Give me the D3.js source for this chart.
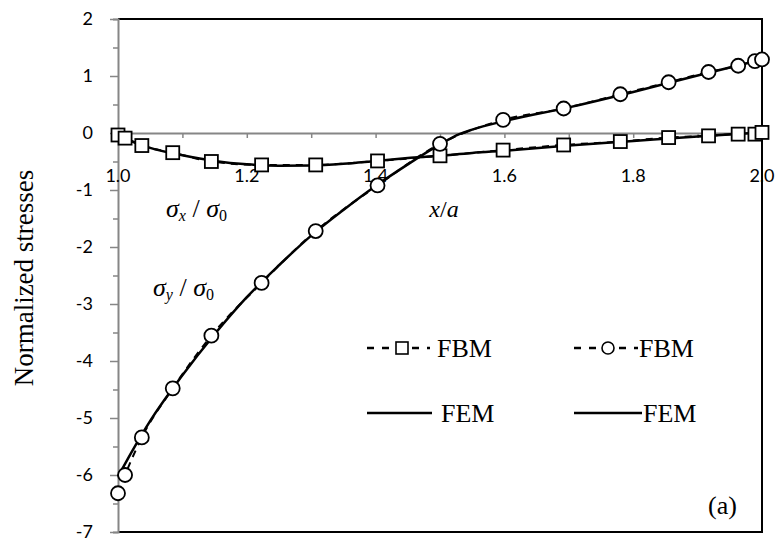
<!DOCTYPE html>
<html lang="en">
<head>
<meta charset="UTF-8">
<title>Normalized stresses</title>
<style>
  body { margin: 0; background: #fff; }
</style>
</head>
<body>
<svg id="svg" width="778" height="541"></svg>
<script src="https://d3js.org/d3.v7.min.js"></script>
<script>
// FBM sample points (markers)
const fbmX = [1.0, 1.011, 1.037, 1.085, 1.145, 1.223, 1.307, 1.403, 1.5, 1.598, 1.692, 1.78, 1.855, 1.917, 1.963, 1.989, 2.0]
const fbmSx = [-0.035, -0.09, -0.22, -0.345, -0.50, -0.56, -0.56, -0.49, -0.40, -0.30, -0.21, -0.15, -0.08, -0.05, -0.02, -0.02, 0.01]
const fbmSy = [-6.32, -6.0, -5.34, -4.48, -3.555, -2.63, -1.72, -0.92, -0.19, 0.23, 0.43, 0.68, 0.89, 1.07, 1.18, 1.26, 1.29]

// FEM curves (solid lines)
const femX = [1.0, 1.02, 1.05, 1.1, 1.15, 1.2, 1.25, 1.3, 1.35, 1.4, 1.45, 1.5, 1.53, 1.55, 1.6, 1.7, 1.8, 1.9, 2.0]
const femSx = [-0.04, -0.14, -0.26, -0.39, -0.49, -0.55, -0.575, -0.57, -0.54, -0.49, -0.44, -0.40, -0.37, -0.35, -0.31, -0.22, -0.14, -0.06, 0.01]
const femSy = [-6.03, -5.62, -5.05, -4.25, -3.53, -2.88, -2.32, -1.80, -1.35, -0.93, -0.55, -0.20, -0.02, 0.06, 0.21, 0.45, 0.72, 1.01, 1.29]

const xTicks = [1.0, 1.1, 1.2, 1.3, 1.4, 1.5, 1.6, 1.7, 1.8, 1.9, 2.0]
const xLabels = [1.0, 1.2, 1.4, 1.6, 1.8, 2.0]
const yTicks = [2, 1, 0, -1, -2, -3, -4, -5, -6, -7]

const svg = d3.select('#svg')
const m = { left: 118, right: 762, top: 19, bottom: 532 }

const x = d3.scaleLinear().domain([1, 2]).range([m.left, m.right])
const y = d3.scaleLinear().domain([-7, 2]).range([m.bottom, m.top])

const serif = '"Liberation Serif", "Times New Roman", serif'
const sans = 'Lato, "Open Sans", sans-serif'
const gray = '#868686'

// plot frame (top, right, bottom)
svg.append('path')
  .attr('d', `M${m.left},${m.top}H${m.right}V${m.bottom}H${m.left}`)
  .attr('fill', 'none')
  .attr('stroke', '#000')
  .attr('stroke-width', 2)

// y axis: ticks every 0.5, labels every 1
const yAxis = svg.append('g')
  .attr('transform', `translate(${m.left},0)`)
  .call(d3.axisLeft(y).tickValues(d3.range(-7, 2.01, 0.5)).tickSize(5).tickFormat(''))
yAxis.select('.domain').attr('stroke', gray).attr('stroke-width', 2)
yAxis.selectAll('.tick line').attr('stroke', gray).attr('stroke-width', 1.5)
  .attr('x2', d => Number.isInteger(d) ? -8 : -5)

svg.append('g').selectAll('text')
  .data(yTicks)
  .join('text')
  .attr('x', 93)
  .attr('y', d => y(d))
  .attr('dy', '0.35em')
  .attr('text-anchor', 'end')
  .attr('font-family', sans)
  .attr('font-size', 18)
  .text(d => d)

// x axis sits at y = 0
const xAxis = svg.append('g')
  .attr('transform', `translate(0,${y(0)})`)
  .call(d3.axisBottom(x).tickValues(xTicks).tickSize(5).tickFormat(''))
xAxis.select('.domain').attr('stroke', gray).attr('stroke-width', 2)
xAxis.selectAll('.tick line').attr('stroke', gray).attr('stroke-width', 1.5)

svg.append('g').selectAll('text')
  .data(xLabels)
  .join('text')
  .attr('x', d => x(d))
  .attr('y', 182)
  .attr('text-anchor', 'middle')
  .attr('font-family', sans)
  .attr('font-size', 18)
  .text(d => d3.format('.1f')(d))

// lines
const lineOf = (xs, ys, curve) => d3.line()
  .x((d, i) => x(xs[i]))
  .y(d => y(d))
  .curve(curve)(ys)

const curves = svg.append('g').attr('fill', 'none').attr('stroke', '#000')
curves.append('path').attr('d', lineOf(femX, femSx, d3.curveMonotoneX)).attr('stroke-width', 2.5)
curves.append('path').attr('d', lineOf(femX, femSy, d3.curveMonotoneX)).attr('stroke-width', 2.5)
curves.append('path').attr('d', lineOf(fbmX, fbmSx, d3.curveMonotoneX))
  .attr('stroke-width', 2).attr('stroke-dasharray', '7,6')
curves.append('path').attr('d', lineOf(fbmX, fbmSy, d3.curveMonotoneX))
  .attr('stroke-width', 2).attr('stroke-dasharray', '7,6')

// markers
const ms = 13
svg.append('g').selectAll('rect')
  .data(fbmSx)
  .join('rect')
  .attr('x', (d, i) => x(fbmX[i]) - ms / 2)
  .attr('y', d => y(d) - ms / 2)
  .attr('width', ms)
  .attr('height', ms)
  .attr('fill', '#fff')
  .attr('stroke', '#000')
  .attr('stroke-width', 1.8)

svg.append('g').selectAll('circle')
  .data(fbmSy)
  .join('circle')
  .attr('cx', (d, i) => x(fbmX[i]))
  .attr('cy', d => y(d))
  .attr('r', 7)
  .attr('fill', '#fff')
  .attr('stroke', '#000')
  .attr('stroke-width', 1.8)

// labels inside the plot
function sigma(xPos, yPos, sub) {
  const t = svg.append('text')
    .attr('x', xPos)
    .attr('y', yPos)
    .attr('font-family', serif)
    .attr('font-size', 26)
  t.append('tspan').attr('font-style', 'italic').text('σ')
  t.append('tspan').attr('font-style', 'italic').attr('font-size', 16).attr('dy', 4).text(sub)
  t.append('tspan').attr('dy', -4).text(' / ')
  t.append('tspan').attr('font-style', 'italic').text('σ')
  t.append('tspan').attr('font-size', 16).attr('dy', 4).text('0')
}
sigma(166, 217, 'x')
sigma(153, 296, 'y')

const xa = svg.append('text')
  .attr('x', 444)
  .attr('y', 217)
  .attr('text-anchor', 'middle')
  .attr('font-family', serif)
  .attr('font-size', 24)
xa.append('tspan').attr('font-style', 'italic').text('x')
xa.append('tspan').text('/')
xa.append('tspan').attr('font-style', 'italic').text('a')

// y axis title
svg.append('text')
  .attr('transform', 'translate(33,278) rotate(-90)')
  .attr('text-anchor', 'middle')
  .attr('font-family', serif)
  .attr('font-size', 27)
  .text('Normalized stresses')

// legend
const legend = svg.append('g')
const legRows = [
  { x1: 367, x2: 430, y: 348, dash: '7,8', marker: 'square', mx: 402, label: 'FBM', tx: 437 },
  { x1: 574, x2: 638, y: 348, dash: '7,8', marker: 'circle', mx: 608, label: 'FBM', tx: 639 },
  { x1: 367, x2: 432, y: 413, dash: null, marker: null, label: 'FEM', tx: 441 },
  { x1: 574, x2: 642, y: 413, dash: null, marker: null, label: 'FEM', tx: 643 }
]
legRows.forEach(r => {
  legend.append('line')
    .attr('x1', r.x1).attr('x2', r.x2)
    .attr('y1', r.y).attr('y2', r.y)
    .attr('stroke', '#000')
    .attr('stroke-width', 2.5)
    .attr('stroke-dasharray', r.dash)
  if (r.marker === 'square') {
    legend.append('rect')
      .attr('x', r.mx - 6).attr('y', r.y - 6)
      .attr('width', 12).attr('height', 12)
      .attr('fill', '#fff').attr('stroke', '#000').attr('stroke-width', 1.6)
  } else if (r.marker === 'circle') {
    legend.append('circle')
      .attr('cx', r.mx).attr('cy', r.y).attr('r', 6)
      .attr('fill', '#fff').attr('stroke', '#000').attr('stroke-width', 1.6)
  }
  legend.append('text')
    .attr('x', r.tx)
    .attr('y', r.y + 9)
    .attr('font-family', serif)
    .attr('font-size', 26)
    .text(r.label)
})

svg.append('text')
  .attr('x', 708)
  .attr('y', 514)
  .attr('font-family', serif)
  .attr('font-size', 26)
  .text('(a)')
</script>
</body>
</html>
